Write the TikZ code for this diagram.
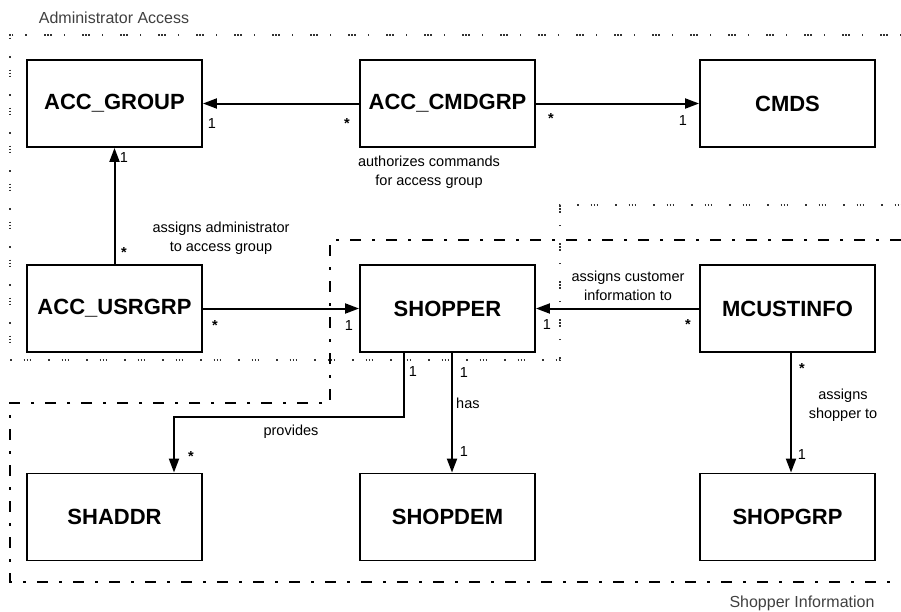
\documentclass[tikz,border=0pt]{standalone}
\usepackage{fontspec}
\setmainfont{Liberation Sans}
\usetikzlibrary{arrows.meta}
\begin{document}
\begin{tikzpicture}[x=1pt,y=-1pt,
  entity/.style={draw, line width=1.9pt, minimum width=175pt, minimum height=87pt,
    inner sep=0pt, font=\fontsize{22}{25}\selectfont\bfseries},
  conn/.style={line width=2pt, -{Triangle[length=14pt,width=10pt]}},
  mult/.style={inner sep=0pt, font=\fontsize{14.5}{16}\selectfont},
  note/.style={inner sep=0pt, align=center, font=\fontsize{14.5}{19}\selectfont},
  regiontitle/.style={inner sep=0pt, text=black!75, font=\fontsize{16}{18}\selectfont},
  adminedge/.style={line width=1.1pt, black!80,
    dash pattern=on 1.5pt off 12pt on 1.5pt off 1.5pt on 1.5pt off 1.5pt on 1.5pt off 17pt},
  shopedge/.style={line width=1.4pt, dash pattern=on 11pt off 11pt on 3pt off 11pt}]
\useasboundingbox (0,0) rectangle (901,611);

% package boundaries
\draw[adminedge] (901,35) -- (10,35) -- (10,360) -- (560,360) -- (560,205) -- (901,205);
\draw[shopedge] (901,240) -- (330,240) -- (330,403) -- (10,403) -- (10,582) -- (901,582);
\node[regiontitle] (admintitle) at (114,18) {Administrator Access};
\node[regiontitle] (shoptitle) at (802,603) {Shopper Information};

% tables
\node[entity] (group)    at (114.5,103.5) {ACC\_GROUP};
\node[entity] (cmdgrp)   at (447.5,103.5) {ACC\_CMDGRP};
\node[entity] (cmds)     at (787.5,103.5) {CMDS};
\node[entity] (usrgrp)   at (114.5,308.5) {ACC\_USRGRP};
\node[entity] (shopper)  at (447.5,308.5) {SHOPPER};
\node[entity] (mcust)    at (787.5,308.5) {MCUSTINFO};
\node[entity] (shaddr)   at (114.5,517)   {SHADDR};
\node[entity] (shopdem)  at (447.5,517)   {SHOPDEM};
\node[entity] (shopgrp)  at (787.5,517)   {SHOPGRP};

% relationships
\draw[conn] (cmdgrp.west) -- (group.east);
\draw[conn] (cmdgrp.east) -- (cmds.west);
\draw[conn] (usrgrp.north) -- (group.south);
\draw[conn] (usrgrp.east) -- (shopper.west);
\draw[conn] (mcust.west) -- (shopper.east);
\coordinate (provlevel) at (0,417);
\draw[conn] ([xshift=-44pt]shopper.south) -- ([xshift=-44pt]shopper.south |- provlevel)
  -| ([xshift=59.5pt]shaddr.north);
\draw[conn] ([xshift=4.5pt]shopper.south) -- ([xshift=4.5pt]shopdem.north);
\draw[conn] ([xshift=3.5pt]mcust.south) -- ([xshift=3.5pt]shopgrp.north);

% multiplicities
\node[mult] (m1a) at (212,124) {1};
\node[mult] (m1b) at (347,124) {\textbf{*}};
\node[mult] (m2a) at (551,119) {\textbf{*}};
\node[mult] (m2b) at (683,121) {1};
\node[mult] (m3a) at (124,158) {1};
\node[mult] (m3b) at (124,253) {\textbf{*}};
\node[mult] (m4a) at (215,326) {\textbf{*}};
\node[mult] (m4b) at (349,326) {1};
\node[mult] (m5a) at (547,325) {1};
\node[mult] (m5b) at (688,325) {\textbf{*}};
\node[mult] (m6a) at (413,372) {1};
\node[mult] (m6b) at (191,457) {\textbf{*}};
\node[mult] (m7a) at (464,373) {1};
\node[mult] (m7b) at (464,452) {1};
\node[mult] (m8a) at (802,369) {\textbf{*}};
\node[mult] (m8b) at (802,455) {1};

% role names
\node[note] (n1) at (429,172) {authorizes commands\\for access group};
\node[note] (n2) at (221,238) {assigns administrator\\to access group};
\node[note] (n3) at (628,286) {assigns customer\\information to};
\node[note] (n4) at (291,432) {provides};
\node[note, anchor=west] (n5) at (456,403) {has};
\node[note] (n6) at (843,405) {assigns\\shopper to};
\end{tikzpicture}
\end{document}
